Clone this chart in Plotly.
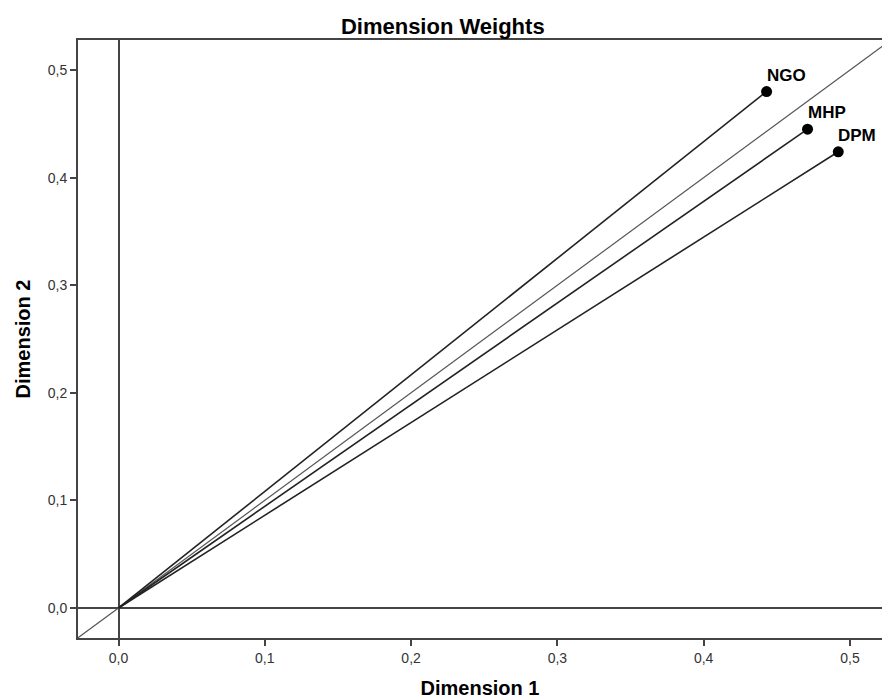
import plotly.graph_objects as go

labels = ["NGO", "MHP", "DPM"]
dim1 = [0.443, 0.471, 0.492]
dim2 = [0.480, 0.445, 0.424]

x_range = [-0.0277, 0.5219]
y_range = [-0.0279, 0.5279]
tick_vals = [0.0, 0.1, 0.2, 0.3, 0.4, 0.5]

FONT = "Liberation Sans, Arial"

fig = go.Figure()

# diagonal reference line
fig.add_trace(go.Scatter(x=[-0.1, 0.6], y=[-0.1, 0.6], mode="lines",
                         line=dict(color="#555555", width=1.2),
                         hoverinfo="skip", showlegend=False))

# vectors from origin
for lab, xv, yv in zip(labels, dim1, dim2):
    fig.add_trace(go.Scatter(x=[0, xv], y=[0, yv], mode="lines",
                             line=dict(color="#222222", width=1.6),
                             hoverinfo="skip", showlegend=False))

fig.add_trace(go.Scatter(x=dim1, y=dim2, mode="markers",
                         marker=dict(color="#000000", size=11),
                         showlegend=False, cliponaxis=False))

for lab, xv, yv in zip(labels, dim1, dim2):
    fig.add_annotation(x=xv, y=yv, text="<b>" + lab + "</b>", showarrow=False,
                       xanchor="left", yanchor="bottom", xshift=-2, yshift=5,
                       font=dict(family=FONT, size=17, color="#000000"))

axis_common = dict(
    showgrid=False, showline=True, linecolor="#444444", linewidth=2,
    ticks="outside", ticklen=6, tickwidth=2, tickcolor="#444444",
    tickvals=tick_vals, tickformat=".1f",
    tickfont=dict(family=FONT, size=14, color="#333333"),
    zeroline=True, zerolinecolor="#444444", zerolinewidth=2,
)

fig.update_layout(
    width=882, height=700,
    margin=dict(l=78, r=0, t=40, b=62),
    paper_bgcolor="white", plot_bgcolor="white",
    separators=",.",
    title=dict(text="<b>Dimension Weights</b>", x=0.502, xanchor="center", y=0.962, yanchor="middle",
               font=dict(family=FONT, size=22, color="#000000")),
    xaxis=dict(range=x_range, mirror=True,
               title=dict(text="<b>Dimension 1</b>", standoff=16,
                          font=dict(family=FONT, size=20, color="#000000")),
               **axis_common),
    yaxis=dict(range=y_range, mirror=False,
               title=dict(text="<b>Dimension 2</b>", standoff=12,
                          font=dict(family=FONT, size=20, color="#000000")),
               **axis_common),
)

fig.write_html("out.html")
